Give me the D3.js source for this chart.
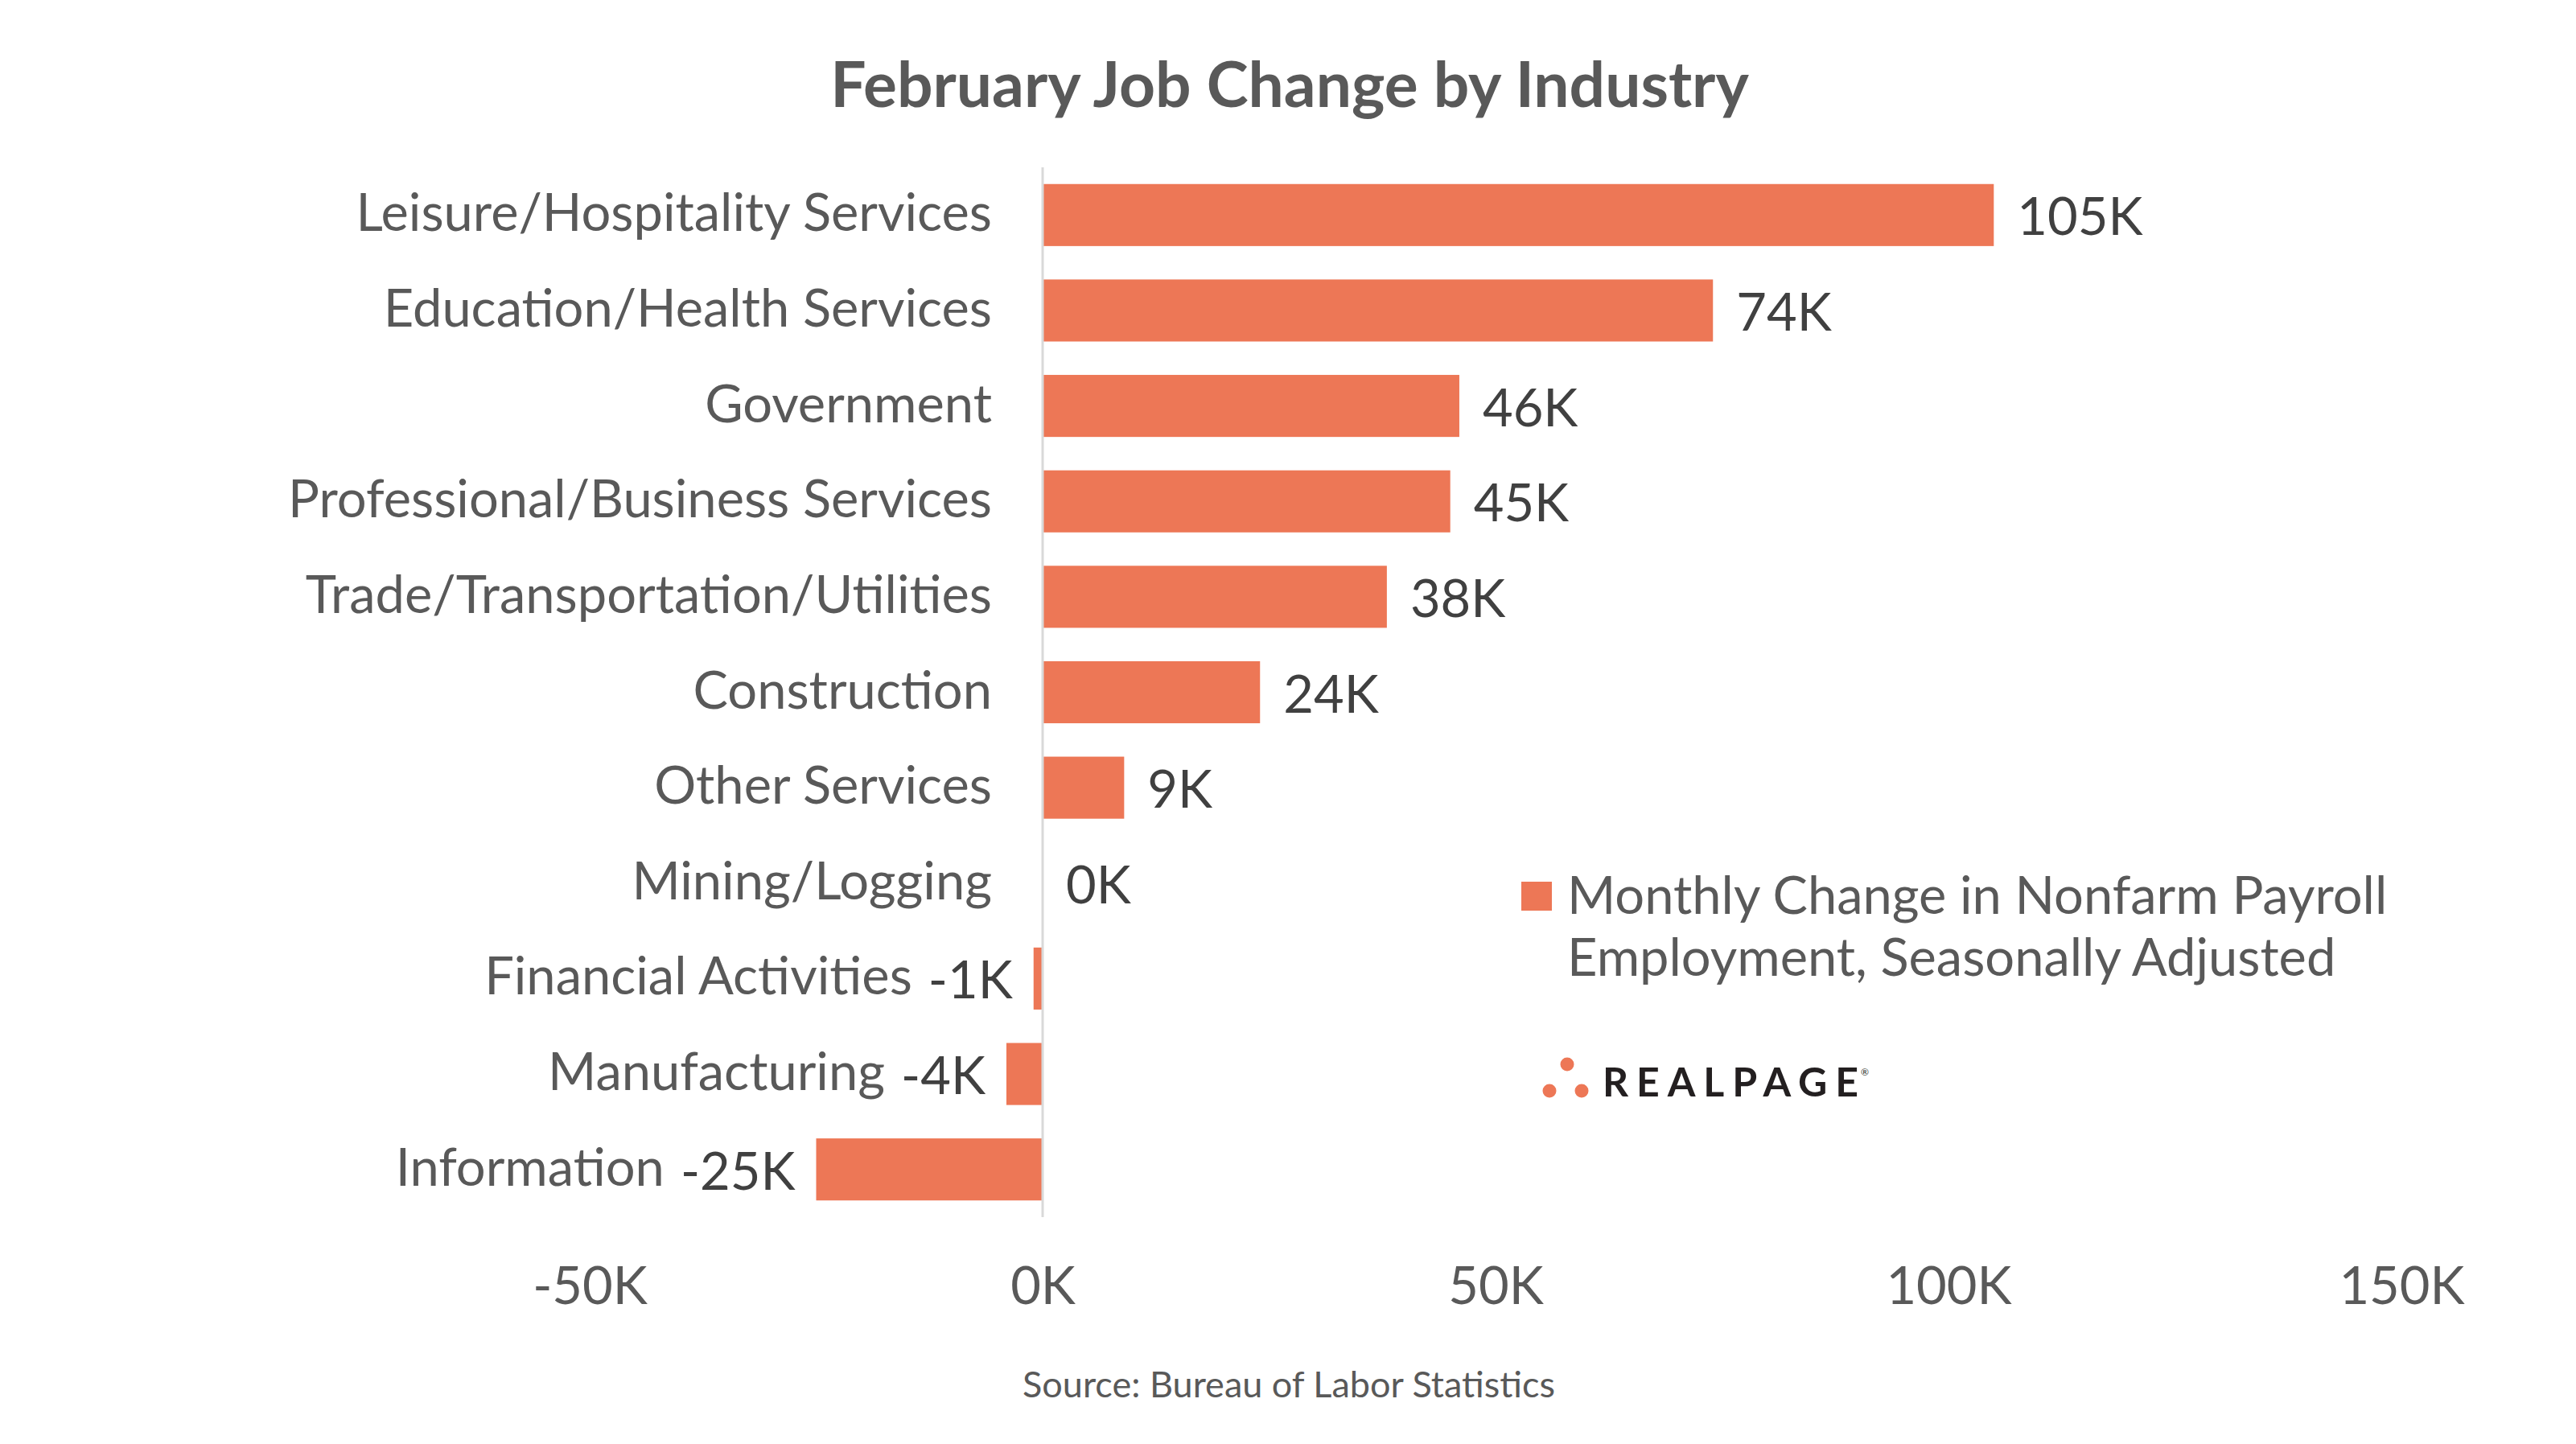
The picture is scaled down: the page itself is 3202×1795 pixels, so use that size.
<!DOCTYPE html>
<html>
<head>
<meta charset="utf-8">
<script src="https://cdn.jsdelivr.net/npm/d3@7"></script>
<style>
  html, body { margin: 0; padding: 0; background: #ffffff; }
  svg { display: block; font-family: Lato, "Noto Sans", sans-serif; }
</style>
</head>
<body>
<svg id="chart" width="3202" height="1795"></svg>
<script>
const categories = [
  "Leisure/Hospitality Services",
  "Education/Health Services",
  "Government",
  "Professional/Business Services",
  "Trade/Transportation/Utilities",
  "Construction",
  "Other Services",
  "Mining/Logging",
  "Financial Activities",
  "Manufacturing",
  "Information"
];
const values = [105, 74, 46, 45, 38, 24, 9, 0, -1, -4, -25];
const tickValues = [-50, 0, 50, 100, 150];
const titleText = "February Job Change by Industry";
const legendLines = ["Monthly Change in Nonfarm Payroll", "Employment, Seasonally Adjusted"];
const sourceText = "Source: Bureau of Labor Statistics";

const barColor = "#ED7756";
const textColor = "#595959";
const valueColor = "#404040";

const svg = d3.select("#chart");
const W = 3202, H = 1795;
svg.append("rect").attr("width", W).attr("height", H).attr("fill", "#fff");

const x = d3.scaleLinear().domain([-50, 150]).range([733, 2985]);
const y = d3.scaleBand().domain(categories).range([208, 1513])
  .paddingInner(0.35).paddingOuter(0.175);

// title
svg.append("text")
  .attr("x", 1603).attr("y", 133)
  .attr("text-anchor", "middle")
  .attr("font-size", 78.5).attr("font-weight", 700)
  .attr("fill", textColor)
  .text(titleText);

// bars
const data = categories.map((c, i) => ({ c, v: values[i] }));
svg.append("g").selectAll("rect").data(data).join("rect")
  .attr("x", d => x(Math.min(0, d.v)))
  .attr("y", d => y(d.c))
  .attr("width", d => Math.abs(x(d.v) - x(0)))
  .attr("height", y.bandwidth())
  .attr("fill", barColor);

// zero axis line
svg.append("line")
  .attr("x1", x(0)).attr("x2", x(0))
  .attr("y1", 208).attr("y2", 1513)
  .attr("stroke", "#d9d9d9").attr("stroke-width", 3);

// value labels
const fs = 65;
const valG = svg.append("g");
const valLabels = valG.selectAll("text").data(data).join("text")
  .attr("x", d => d.v < 0 ? x(d.v) - 26 : x(d.v) + 29)
  .attr("y", d => y(d.c) + y.bandwidth() / 2 + 25)
  .attr("text-anchor", d => d.v < 0 ? "end" : "start")
  .attr("font-size", fs)
  .attr("fill", valueColor)
  .text(d => String(d.v) + "K");

// category labels
const catG = svg.append("g");
valLabels.each(function(d) {
  let endX = x(0) - 63;
  if (d.v < 0) {
    const w = this.getComputedTextLength();
    endX = Math.min(endX, x(d.v) - 26 - w - 20);
  }
  catG.append("text")
    .attr("x", endX)
    .attr("y", y(d.c) + y.bandwidth() / 2 + 20)
    .attr("text-anchor", "end")
    .attr("font-size", fs)
    .attr("fill", textColor)
    .text(d.c);
});

// x axis tick labels
const axis = d3.axisBottom(x).tickValues(tickValues).tickSize(0).tickPadding(0)
  .tickFormat(d => String(d) + "K");
const ax = svg.append("g").attr("transform", "translate(0,1621)").call(axis);
ax.select(".domain").remove();
ax.selectAll("text")
  .attr("dy", 0).attr("y", 0)
  .attr("font-size", fs)
  .attr("font-family", "Lato, 'Noto Sans', sans-serif")
  .attr("fill", textColor);

// legend
svg.append("rect")
  .attr("x", 1891).attr("y", 1096).attr("width", 38).attr("height", 36)
  .attr("fill", barColor);
legendLines.forEach((t, i) => {
  svg.append("text")
    .attr("x", 1948).attr("y", 1136 + i * 77)
    .attr("font-size", fs).attr("fill", textColor)
    .text(t);
});

// logo
const logo = svg.append("g");
[[1948, 1323], [1926, 1356], [1966, 1356]].forEach(p => {
  logo.append("circle").attr("cx", p[0]).attr("cy", p[1]).attr("r", 8.5).attr("fill", barColor);
});
logo.append("text")
  .attr("x", 1992).attr("y", 1363)
  .attr("font-size", 50).attr("font-weight", 700)
  .attr("fill", "#231f20")
  .attr("textLength", 318).attr("lengthAdjust", "spacing")
  .text("REALPAGE");
logo.append("text")
  .attr("x", 2313).attr("y", 1337)
  .attr("font-size", 12).attr("fill", "#231f20")
  .text("®");

// source
svg.append("text")
  .attr("x", 1602).attr("y", 1737)
  .attr("text-anchor", "middle")
  .attr("font-size", 45).attr("fill", textColor)
  .text(sourceText);
</script>
</body>
</html>
